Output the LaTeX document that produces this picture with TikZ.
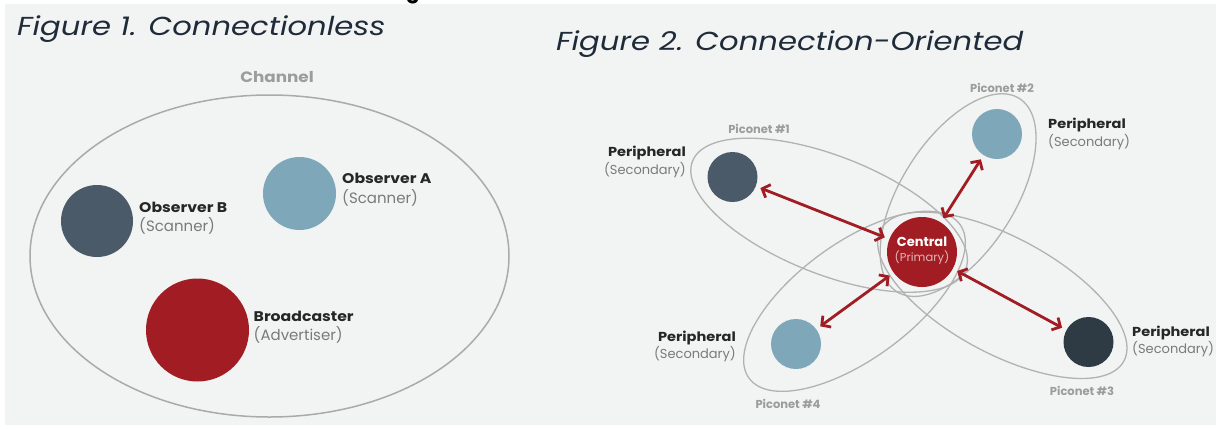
\documentclass[tikz,border=0pt]{standalone}
\usepackage{fontspec}
\setmainfont{Poppins}
\newfontfamily\titlefont[FakeStretch=1.18]{Poppins}
\newfontfamily\widefont[FakeStretch=1.12]{Poppins}
\usetikzlibrary{arrows.meta}
\definecolor{bg}{HTML}{F2F3F3}
\definecolor{netgray}{HTML}{B2B2B2}
\definecolor{chgray}{HTML}{AAAAAA}
\definecolor{lblgray}{HTML}{9C9C9C}
\definecolor{subgray}{HTML}{7A7A7A}
\definecolor{txtdark}{HTML}{262626}
\definecolor{titlecol}{HTML}{1F2B38}
\definecolor{slate}{HTML}{4B5A69}
\definecolor{sky}{HTML}{7EA8B9}
\definecolor{crimson}{HTML}{A11D23}
\definecolor{night}{HTML}{2E3B45}
\definecolor{pinkish}{HTML}{E7B3B5}
\newcommand\fsz[1]{\fontsize{#1}{#1}\selectfont}
\begin{document}
\begin{tikzpicture}[x=1pt,y=-1pt,
  dot/.style={circle, inner sep=0pt, outer sep=0pt, draw=none},
  net/.style={draw=netgray, line width=1.3pt},
  link/.style={draw=crimson, line width=2.8pt,
     {Straight Barb[length=6.5pt,width=14pt]}-{Straight Barb[length=6.5pt,width=14pt]},
     shorten <=5pt, shorten >=5pt},
  title/.style={font=\titlefont\itshape\fsz{26}, text=titlecol, inner sep=0pt, anchor=base west},
  mainA/.style={font=\widefont\bfseries\fsz{14}, text=txtdark, inner sep=0pt},
  subA/.style={font=\fsz{15}, text=subgray, inner sep=0pt},
  mainB/.style={font=\widefont\bfseries\fsz{13}, text=txtdark, inner sep=0pt},
  subB/.style={font=\fsz{13}, text=subgray, inner sep=0pt},
  netlbl/.style={font=\bfseries\fsz{11.5}, text=lblgray, inner sep=0pt, anchor=base}
]
\useasboundingbox (0,0) rectangle (1216,429);
\fill[white] (0,0) rectangle (1216,429);
\fill[bg] (5,4) rectangle (1216,425);

% cut-off character at the top
\begin{scope}
\clip (0,0) rectangle (1216,4);
\node[font=\bfseries\fsz{20}, inner sep=0pt, anchor=base] (cutg) at (413,-1.5) {g};
\end{scope}

% titles
\node[title] (t1) at (17,35.5) {Figure 1. Connectionless};
\node[title] (t2) at (556,50.5) {Figure 2. Connection-Oriented};

% ---------- Figure 1 ----------
\node[font=\widefont\bfseries\fsz{15}, text=lblgray, inner sep=0pt, anchor=base] (chan) at (277,82) {Channel};
\draw[draw=chgray, line width=1.5pt] (269.5,256) ellipse [x radius=239.5, y radius=161];

\node[dot, fill=slate, minimum size=72pt] (obsB) at (97,221) {};
\node[dot, fill=sky, minimum size=73pt] (obsA) at (299.5,193.5) {};
\node[dot, fill=crimson, minimum size=103pt] (bc) at (197.5,330) {};

\node[mainA, anchor=base west] (obsAt) at (342,183) {Observer A};
\node[subA, anchor=base west] (obsAs) at (342,203) {(Scanner)};
\node[mainA, anchor=base west] (obsBt) at (139,212) {Observer B};
\node[subA, anchor=base west] (obsBs) at (139,231) {(Scanner)};
\node[mainA, anchor=base west] (bct) at (253.5,321) {Broadcaster};
\node[subA, anchor=base west] (bcs) at (253.5,340) {(Advertiser)};

% ---------- Figure 2 ----------
\draw[net, shift={(829.1,215.2)}, rotate=-21.6] (0,0) ellipse [x radius=146.9, y radius=59];
\draw[net, shift={(958.1,195.1)}, rotate=57.6] (0,0) ellipse [x radius=114.4, y radius=57];
\draw[net, shift={(1002.3,295.3)}, rotate=-28.4] (0,0) ellipse [x radius=138.2, y radius=58];
\draw[net, shift={(854.5,301.3)}, rotate=36.1] (0,0) ellipse [x radius=130.5, y radius=58];

\node[dot, fill=crimson, minimum size=70pt] (cen) at (922,252) {};
\node[dot, fill=slate, minimum size=50pt] (p1) at (732.5,177) {};
\node[dot, fill=sky, minimum size=50pt] (p2) at (997,134) {};
\node[dot, fill=night, minimum size=50pt] (p3) at (1088.5,342) {};
\node[dot, fill=sky, minimum size=50pt] (p4) at (796,344) {};

\node[font=\bfseries\fsz{13}, text=white, inner sep=0pt, anchor=base] (cent) at (922,246.5) {Central};
\node[font=\fsz{11.5}, text=pinkish, inner sep=0pt, anchor=base] (cens) at (922,261) {(Primary)};

\draw[link] (p1) -- (cen);
\draw[link] (p2) -- (cen);
\draw[link] (cen) -- (p4);
\draw[link] (cen) -- (p3);

\node[mainB, anchor=base east] (p1t) at (686,156.5) {Peripheral};
\node[subB, anchor=base east] (p1s) at (686,174.5) {(Secondary)};
\node[mainB, anchor=base west] (p2t) at (1048,128.5) {Peripheral};
\node[subB, anchor=base west] (p2s) at (1048,146.5) {(Secondary)};
\node[mainB, anchor=base east] (p4t) at (736,341.5) {Peripheral};
\node[subB, anchor=base east] (p4s) at (736,358.5) {(Secondary)};
\node[mainB, anchor=base west] (p3t) at (1132,336.5) {Peripheral};
\node[subB, anchor=base west] (p3s) at (1132,353.5) {(Secondary)};

\node[netlbl] (n1) at (759,133) {Piconet \#1};
\node[netlbl] (n2) at (1002,92) {Piconet \#2};
\node[netlbl] (n3) at (1082,395) {Piconet \#3};
\node[netlbl] (n4) at (788,408) {Piconet \#4};
\end{tikzpicture}
\end{document}
